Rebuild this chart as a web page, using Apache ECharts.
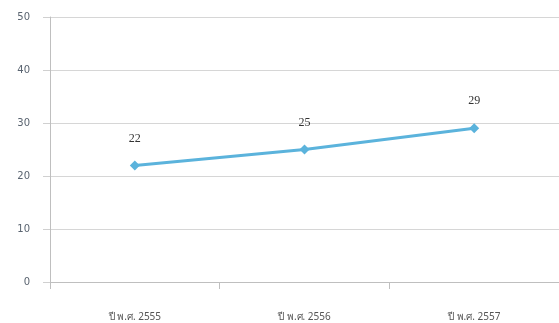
<!DOCTYPE html>
<html>
<head>
<meta charset="utf-8">
<script src="https://cdn.jsdelivr.net/npm/echarts@6/dist/echarts.min.js"></script>
<style>
  html, body { margin: 0; padding: 0; background: #fff; }
  #chart { width: 559px; height: 323px; }
</style>
</head>
<body>
<div id="chart"></div>
<script>
// data
const years = ['ปี พ.ศ. 2555', 'ปี พ.ศ. 2556', 'ปี พ.ศ. 2557'];
const values = [22, 25, 29];
const yTicks = [0, 10, 20, 30, 40, 50];

const chart = echarts.init(document.getElementById('chart'));
const option = {
  animation: false,
  grid: { left: 50, right: -1, top: 17, bottom: 41, containLabel: false },
  xAxis: {
    type: 'category',
    data: years,
    boundaryGap: true,
    axisLine: { show: true, lineStyle: { color: '#bfbfbf', width: 1 } },
    axisTick: { show: true, length: 7, inside: false, lineStyle: { color: '#bfbfbf' } },
    axisLabel: { margin: 30, color: '#555', fontSize: 10, fontFamily: 'Noto Sans, DejaVu Sans, sans-serif' }
  },
  yAxis: {
    type: 'value',
    min: yTicks[0],
    max: yTicks[yTicks.length - 1],
    interval: 10,
    axisLine: { show: true, lineStyle: { color: '#bfbfbf', width: 1 } },
    axisTick: { show: true, length: 7, lineStyle: { color: '#d0d0d0' } },
    axisLabel: { margin: 20, color: '#5a6470', fontSize: 10, fontFamily: 'DejaVu Sans, sans-serif' },
    splitLine: { show: true, lineStyle: { color: '#d6d6d6', width: 1 } }
  },
  series: [{
    type: 'line',
    data: values,
    symbol: 'diamond',
    symbolSize: 10,
    lineStyle: { color: '#5bb3dc', width: 3 },
    itemStyle: { color: '#5bb3dc' },
    label: {
      show: true,
      position: 'top',
      distance: 16,
      color: '#333',
      fontSize: 12,
      fontFamily: 'Liberation Serif, serif'
    }
  }]
};
chart.setOption(option);
</script>
</body>
</html>
